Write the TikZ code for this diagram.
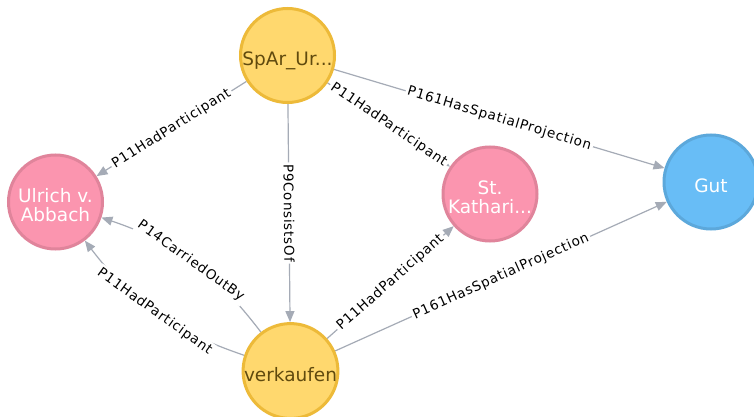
\documentclass[tikz,border=0pt]{standalone}
\usepackage{fontspec}
\setmainfont{DejaVu Sans}
\newfontfamily\lblfont[LetterSpace=6]{DejaVu Sans}
\usetikzlibrary{arrows.meta}
\pgfdeclarelayer{bg}
\pgfsetlayers{bg,main}
\definecolor{ylw}{HTML}{FFD86E}
\definecolor{ylwb}{HTML}{EDBA39}
\definecolor{ylwt}{HTML}{604A0E}
\definecolor{pnk}{HTML}{FB95AF}
\definecolor{pnkb}{HTML}{E0849B}
\definecolor{blu}{HTML}{68BDF6}
\definecolor{blub}{HTML}{5CA8DB}
\definecolor{edg}{HTML}{A5ABB6}
\begin{document}
\begin{tikzpicture}[x=1pt,y=-1pt,
 ent/.style={circle, minimum size=94pt, inner sep=0pt, line width=3pt, align=center, font=\fontsize{18.5}{19.5}\selectfont},
 one/.style={text height=20pt, text depth=0pt},
 two/.style={text height=39pt, text depth=0pt},
 yel/.style={ent, fill=ylw, draw=ylwb, text=ylwt},
 pnkn/.style={ent, fill=pnk, draw=pnkb, text=white},
 blun/.style={ent, fill=blu, draw=blub, text=white},
 rel/.style={draw=edg, line width=1.2pt, -{Triangle[length=11pt,width=9pt]}},
 lbl/.style={midway, sloped, fill=white, inner sep=2pt, text=black, font=\lblfont\fontsize{13.5}{13.5}\selectfont}
]
\useasboundingbox (0,0) rectangle (754,417);
\node[yel,one] (sp) at (287.5,55.5) {SpAr\_Ur...};
\node[pnkn,two] (ul) at (55.5,202) {Ulrich v.\\Abbach};
\node[pnkn,two] (st) at (490,194) {St.\\Kathari...};
\node[blun,one] (gut) at (711,182) {Gut};
\node[yel,one] (vk) at (290.5,371) {verkaufen};
\begin{pgfonlayer}{bg}
\fill[white] (0,0) rectangle (754,417);
\draw[rel] (sp) -- node[lbl]{P11HadParticipant} (ul);
\draw[rel] (sp) -- node[lbl]{P11HadParticipant} (st);
\draw[rel] (sp) -- node[lbl]{P161HasSpatialProjection} (gut);
\draw[rel] (sp) -- node[lbl]{P9ConsistsOf} (vk);
\draw[rel] (vk) to[bend right=17] node[lbl]{P14CarriedOutBy} (ul);
\draw[rel] (vk) to[bend left=17] node[lbl]{P11HadParticipant} (ul);
\draw[rel] (vk) -- node[lbl]{P11HadParticipant} (st);
\draw[rel] (vk) -- node[lbl]{P161HasSpatialProjection} (gut);
\end{pgfonlayer}
\end{tikzpicture}
\end{document}
